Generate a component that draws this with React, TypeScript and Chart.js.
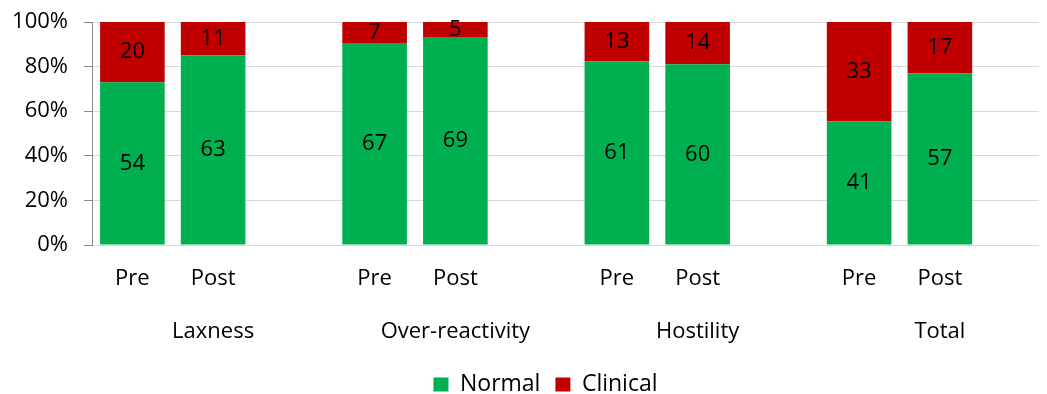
import React, { useEffect, useRef } from "react";
import { Chart, registerables } from "chart.js";

Chart.register(...registerables);

// Scale groups and the two measurement points within each
const groups = ["Laxness", "Over-reactivity", "Hostility", "Total"];
const phases = ["Pre", "Post"];

// Counts per bar, in order: group × phase
const normalCounts = [54, 63, 67, 69, 61, 60, 41, 57];
const clinicalCounts = [20, 11, 7, 5, 13, 14, 33, 17];

// Percentage axis ticks
const yTicks = [0, 20, 40, 60, 80, 100];

const GREEN = "#00B050";
const RED = "#C00000";
const FONT = "'Open Sans', 'DejaVu Sans', sans-serif";

// One empty slot after each group keeps the groups apart
const slotLabels: string[] = [];
const normalPct: (number | null)[] = [];
const clinicalPct: (number | null)[] = [];
const normalRaw: (number | null)[] = [];
const clinicalRaw: (number | null)[] = [];
groups.forEach((_, g) => {
  phases.forEach((p, k) => {
    const i = g * phases.length + k;
    const total = normalCounts[i] + clinicalCounts[i];
    slotLabels.push(p);
    normalPct.push((normalCounts[i] / total) * 100);
    clinicalPct.push((clinicalCounts[i] / total) * 100);
    normalRaw.push(normalCounts[i]);
    clinicalRaw.push(clinicalCounts[i]);
  });
  slotLabels.push("");
  normalPct.push(null);
  clinicalPct.push(null);
  normalRaw.push(null);
  clinicalRaw.push(null);
});

const countsByDataset = [normalRaw, clinicalRaw];

// Writes the raw count in the middle of each stacked segment
const segmentCounts = {
  id: "segmentCounts",
  afterDatasetsDraw(chart: Chart) {
    const ctx = chart.ctx;
    ctx.save();
    ctx.font = `22px ${FONT}`;
    ctx.fillStyle = "#000";
    ctx.textAlign = "center";
    ctx.textBaseline = "middle";
    chart.data.datasets.forEach((_, di) => {
      const meta = chart.getDatasetMeta(di);
      meta.data.forEach((el: any, i: number) => {
        const v = countsByDataset[di][i];
        if (v == null) return;
        const y = (el.y + el.base) / 2;
        ctx.fillText(String(v), el.x, y);
      });
    });
    ctx.restore();
  },
};

// Centres the legend under the whole figure rather than the padded box
const legendShift = {
  id: "legendShift",
  afterLayout(chart: any) {
    const lg = chart.legend;
    if (!lg) return;
    lg.left += 11;
    lg.right += 11;
  },
};

export default function App() {
  const canvasRef = useRef<HTMLCanvasElement | null>(null);

  useEffect(() => {
    document.body.style.overflow = "hidden";
    if (!canvasRef.current) return;
    const chart = new Chart(canvasRef.current, {
      type: "bar",
      data: {
        labels: slotLabels,
        datasets: [
          {
            label: "Normal",
            data: normalPct,
            backgroundColor: GREEN,
            stack: "s",
            barPercentage: 0.8,
            categoryPercentage: 1,
          },
          {
            label: "Clinical",
            data: clinicalPct,
            backgroundColor: RED,
            stack: "s",
            barPercentage: 0.8,
            categoryPercentage: 1,
          },
        ],
      },
      options: {
        responsive: false,
        animation: false,
        layout: { padding: { top: 0, right: 23, left: 0, bottom: 0 } },
        plugins: {
          tooltip: { enabled: false },
          legend: {
            position: "bottom",
            labels: {
              boxWidth: 15,
              boxHeight: 14,
              padding: 15,
              color: "#000",
              font: { family: FONT, size: 23 },
            },
          },
        },
        scales: {
          x: {
            stacked: true,
            weight: 0,
            grid: { display: false, drawTicks: false },
            border: { display: false },
            ticks: {
              autoSkip: false,
              maxRotation: 0,
              padding: 21,
              color: "#000",
              font: { family: FONT, size: 22 },
            },
            afterFit(scale: any) {
              scale.height = 67;
            },
          },
          x2: {
            type: "category",
            labels: groups,
            position: "bottom",
            weight: 1,
            grid: { display: false, drawTicks: false },
            border: { display: false },
            ticks: {
              autoSkip: false,
              maxRotation: 0,
              padding: 7,
              color: "#000",
              font: { family: FONT, size: 22 },
            },
            afterFit(scale: any) {
              scale.height = 46;
            },
          },
          y: {
            stacked: true,
            min: 0,
            max: 100,
            afterBuildTicks(scale: any) {
              scale.ticks = yTicks.map((v) => ({ value: v }));
            },
            grid: {
              color: "#d9d9d9",
              tickColor: "#868686",
              tickLength: 8,
            },
            border: { color: "#868686" },
            ticks: {
              padding: 16,
              color: "#000",
              font: { family: FONT, size: 22 },
              callback: (v: any) => `${v}%`,
            },
            afterFit(scale: any) {
              scale.width = 84;
              scale.paddingTop = 14;
              scale.paddingBottom = 0;
            },
          },
        },
      },
      plugins: [segmentCounts, legendShift],
    });
    return () => chart.destroy();
  }, []);

  return (
    <div style={{ width: 1039, height: 386, overflow: "hidden" }}>
      <canvas ref={canvasRef} width={1076} height={398} />
    </div>
  );
}
